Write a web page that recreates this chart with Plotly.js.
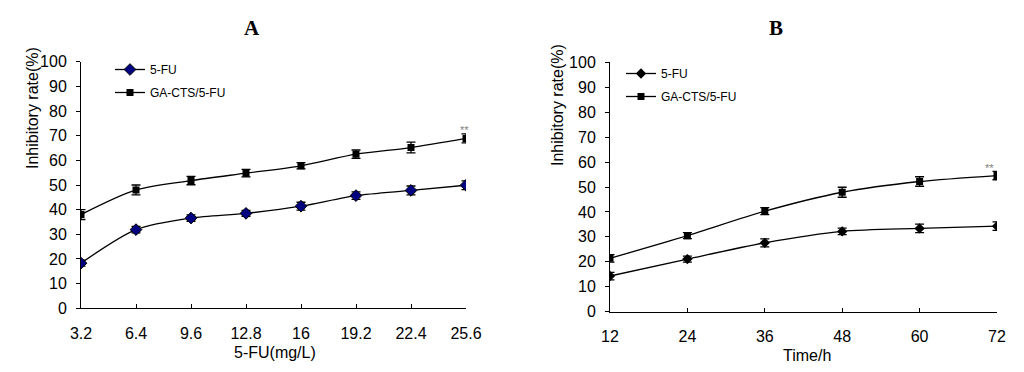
<!DOCTYPE html>
<html><head><meta charset="utf-8">
<script src="https://cdn.plot.ly/plotly-3.0.1.min.js"></script>
<style>html,body{margin:0;padding:0;background:#fff}#chart{width:1024px;height:372px}</style>
</head><body><div id="chart"></div>
<script>
// Panel A: concentration of 5-FU
const concA = [3.2, 6.4, 9.6, 12.8, 16, 19.2, 22.4, 25.6];
const concTicks = ['3.2', '6.4', '9.6', '12.8', '16', '19.2', '22.4', '25.6'];
const fuA = [18.3, 31.9, 36.6, 38.5, 41.4, 45.7, 47.8, 49.9];
const fuAErr = [1.2, 1.3, 1.3, 1.2, 1.6, 1.5, 1.8, 1.8];
const gaA = [38.0, 48.0, 51.8, 54.8, 57.8, 62.5, 65.2, 68.9];
const gaAErr = [2.0, 2.0, 1.7, 1.5, 1.3, 1.7, 2.2, 1.8];
// Panel B: time
const timeB = [12, 24, 36, 48, 60, 72];
const fuB = [14.3, 21.1, 27.6, 32.2, 33.4, 34.3];
const fuBErr = [1.5, 1.2, 1.6, 1.3, 1.7, 1.7];
const gaB = [21.4, 30.5, 40.3, 47.9, 52.2, 54.6];
const gaBErr = [1.5, 1.2, 1.4, 2.0, 1.9, 1.7];
const yTicks = [0, 10, 20, 30, 40, 50, 60, 70, 80, 90, 100];

const W = 1024, H = 372;
const px = v => v / W, py = v => 1 - v / H;

function err(arr){ return {type:'data', array:arr, visible:true, color:'#000', thickness:1.3, width:4.5}; }
const lineStyle = {color:'#000', width:1.3, shape:'spline', smoothing:0.8};

const traces = [
  {x:concA, y:fuA, error_y:err(fuAErr), name:'5-FU', mode:'lines+markers', xaxis:'x', yaxis:'y',
   line:lineStyle, marker:{symbol:'diamond', size:9, color:'#000080', line:{color:'#000', width:1}},
   legend:'legend', legendgroup:'a1'},
  {x:concA, y:gaA, error_y:err(gaAErr), name:'GA-CTS/5-FU', mode:'lines+markers', xaxis:'x', yaxis:'y',
   line:lineStyle, marker:{symbol:'square', size:7, color:'#000'},
   legend:'legend', legendgroup:'a2'},
  {x:timeB, y:fuB, error_y:err(fuBErr), name:'5-FU', mode:'lines+markers', xaxis:'x2', yaxis:'y2',
   line:lineStyle, marker:{symbol:'diamond', size:8, color:'#000'},
   legend:'legend2', legendgroup:'b1'},
  {x:timeB, y:gaB, error_y:err(gaBErr), name:'GA-CTS/5-FU', mode:'lines+markers', xaxis:'x2', yaxis:'y2',
   line:lineStyle, marker:{symbol:'square', size:7, color:'#000'},
   legend:'legend2', legendgroup:'b2'}
];

const tickFont = {family:'Liberation Sans, Arial, sans-serif', size:16, color:'#000'};
const yCommon = {range:[0,100], tickvals:yTicks, ticktext:yTicks.map(String), showline:true, linecolor:'#000', linewidth:1,
  ticks:'outside', ticklen:4, tickcolor:'#000', showgrid:false, zeroline:false, tickfont:tickFont, ticklabelstandoff:6, fixedrange:true};
const xCommon = {showline:true, linecolor:'#000', linewidth:1, ticks:'inside', ticklen:4, tickcolor:'#000',
  showgrid:false, zeroline:false, tickfont:tickFont, ticklabelstandoff:10, fixedrange:true};

const legendCommon = {bgcolor:'rgba(0,0,0,0)', borderwidth:0, font:{family:'Liberation Sans, Arial, sans-serif', size:12, color:'#000'},
  xanchor:'left', yanchor:'top', traceorder:'grouped', tracegroupgap:4, itemwidth:30};

const ann = (text, x, y, size, extra) => Object.assign({text:text, x:px(x), y:py(y), xref:'paper', yref:'paper', showarrow:false,
  xanchor:'center', yanchor:'middle', font:{family:'Liberation Sans, Arial, sans-serif', size:size, color:'#000'}}, extra || {});

const layout = {
  width:W, height:H, margin:{l:0, r:0, t:0, b:0}, paper_bgcolor:'#fff', plot_bgcolor:'#fff', showlegend:true,
  xaxis: Object.assign({}, xCommon, {domain:[px(81), px(466)], range:[3.2, 25.6], tickvals:concA, ticktext:concTicks, anchor:'y'}),
  yaxis: Object.assign({}, yCommon, {domain:[1-308.3/H, 1-61.7/H], anchor:'x'}),
  xaxis2: Object.assign({}, xCommon, {domain:[px(610), px(997)], range:[12, 72], tickvals:timeB, ticktext:timeB.map(String), anchor:'y2'}),
  yaxis2: Object.assign({}, yCommon, {domain:[1-311.7/H, 1-62.3/H], anchor:'x2'}),
  legend: Object.assign({}, legendCommon, {x:px(110), y:py(55)}),
  legend2: Object.assign({}, legendCommon, {x:px(621), y:py(59)}),
  annotations:[
    ann('<b>A</b>', 252, 28, 21, {font:{family:'Liberation Serif, Times New Roman, serif', size:21, color:'#000'}}),
    ann('<b>B</b>', 776, 28, 21, {font:{family:'Liberation Serif, Times New Roman, serif', size:21, color:'#000'}}),
    ann('Inhibitory rate(%)', 33, 108, 16, {textangle:-90}),
    ann('Inhibitory rate(%)', 558, 105, 16, {textangle:-90}),
    ann('5-FU(mg/L)', 275, 352, 16),
    ann('Time/h', 807, 355, 16),
    {text:'**', x:concA[concA.length-1], y:gaA[gaA.length-1], xref:'x', yref:'y', xanchor:'center', yanchor:'middle', yshift:8, xshift:-2, showarrow:false, font:{family:'Liberation Sans, Arial, sans-serif', size:11, color:'#808080'}},
    {text:'**', x:timeB[timeB.length-1], y:gaB[gaB.length-1], xref:'x2', yref:'y2', xanchor:'center', yanchor:'middle', yshift:8, xshift:-8, showarrow:false, font:{family:'Liberation Sans, Arial, sans-serif', size:11, color:'#808080'}}
  ]
};

Plotly.newPlot('chart', traces, layout, {displayModeBar:false, staticPlot:true});
</script>
</body></html>
